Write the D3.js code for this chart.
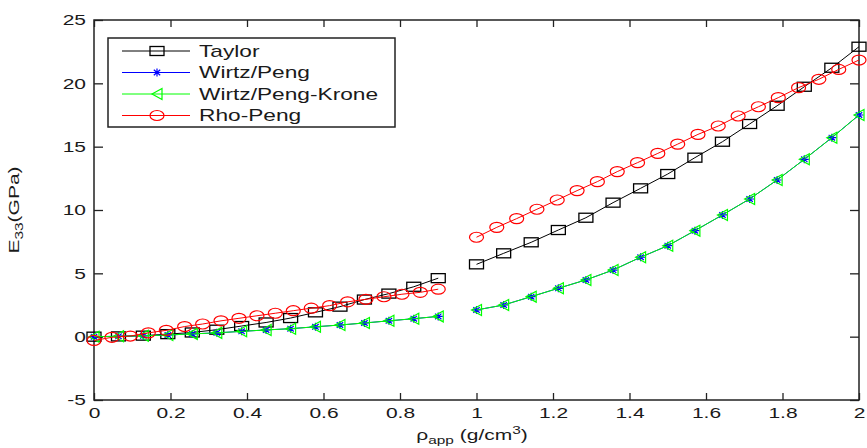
<!DOCTYPE html>
<html>
<head>
<meta charset="utf-8">
<script src="https://cdnjs.cloudflare.com/ajax/libs/d3/7.8.5/d3.min.js"></script>
<style>
  body { margin: 0; background: #fff; }
  svg { display: block; font-family: "Liberation Sans", Arial, sans-serif; }
</style>
</head>
<body>
<script>
// x positions, 15 point series
var xLeft15 = [0, 0.064, 0.129, 0.193, 0.257, 0.321, 0.386, 0.45, 0.514, 0.579, 0.643, 0.707, 0.771, 0.836, 0.9];
var xRight15 = [1, 1.071, 1.143, 1.214, 1.286, 1.357, 1.429, 1.5, 1.571, 1.643, 1.714, 1.786, 1.857, 1.929, 2];
// x positions, 20 point series
var xLeft20 = [0, 0.047, 0.095, 0.142, 0.189, 0.237, 0.284, 0.332, 0.379, 0.426, 0.474, 0.521, 0.568, 0.616, 0.663, 0.711, 0.758, 0.805, 0.853, 0.9];
var xRight20 = [1, 1.053, 1.105, 1.158, 1.211, 1.263, 1.316, 1.368, 1.421, 1.474, 1.526, 1.579, 1.632, 1.684, 1.737, 1.789, 1.842, 1.895, 1.947, 2];

var taylorLeft = [0, 0.02, 0.08, 0.2, 0.33, 0.55, 0.84, 1.12, 1.47, 1.92, 2.37, 2.93, 3.4, 3.94, 4.62];
var taylorRight = [5.71, 6.58, 7.45, 8.42, 9.39, 10.58, 11.71, 12.84, 14.13, 15.39, 16.79, 18.23, 19.73, 21.23, 22.89];

var wirtzLeft = [0, 0.03, 0.07, 0.13, 0.22, 0.3, 0.42, 0.53, 0.63, 0.78, 0.92, 1.08, 1.25, 1.42, 1.6];
var wirtzRight = [2.11, 2.5, 3.16, 3.82, 4.48, 5.26, 6.27, 7.18, 8.37, 9.61, 10.87, 12.37, 14.0, 15.71, 17.5];

var kroneLeft = [0, 0.03, 0.07, 0.13, 0.22, 0.3, 0.42, 0.53, 0.63, 0.78, 0.92, 1.08, 1.25, 1.42, 1.6];
var kroneRight = [2.11, 2.5, 3.16, 3.82, 4.48, 5.26, 6.27, 7.18, 8.37, 9.61, 10.87, 12.37, 14.0, 15.71, 17.5];

var rhoLeft = [-0.3, -0.05, 0.05, 0.3, 0.5, 0.8, 1.0, 1.25, 1.45, 1.65, 1.85, 2.05, 2.25, 2.45, 2.75, 2.95, 3.15, 3.35, 3.5, 3.75];
var rhoRight = [7.85, 8.63, 9.32, 10.06, 10.79, 11.53, 12.24, 13.03, 13.74, 14.47, 15.2, 15.97, 16.63, 17.42, 18.15, 18.87, 19.66, 20.32, 21.1, 21.84];

var xTicks = [0, 0.2, 0.4, 0.6, 0.8, 1, 1.2, 1.4, 1.6, 1.8, 2];
var yTicks = [-5, 0, 5, 10, 15, 20, 25];
var legendNames = ['Taylor', 'Wirtz/Peng', 'Wirtz/Peng-Krone', 'Rho-Peng'];

var W = 867, H = 448;
var mLeft = 94, mRight = 859, mTop = 20, mBottom = 400;
var sx = 1.4; // glyphs are drawn wide, like the reference

var svg = d3.select('body').append('svg').attr('width', W).attr('height', H);

var x = d3.scaleLinear().domain([0, 2]).range([mLeft, mRight]);
var y = d3.scaleLinear().domain([-5, 25]).range([mBottom, mTop]);

function zip(xs, ys) {
  return xs.map(function (v, i) { return [v, ys[i]]; });
}

var series = [
  { name: legendNames[0], color: '#000000', marker: 'square', parts: [zip(xLeft15, taylorLeft), zip(xRight15, taylorRight)] },
  { name: legendNames[1], color: '#0000ff', marker: 'star', parts: [zip(xLeft15, wirtzLeft), zip(xRight15, wirtzRight)] },
  { name: legendNames[2], color: '#00ff00', marker: 'triangle', parts: [zip(xLeft15, kroneLeft), zip(xRight15, kroneRight)] },
  { name: legendNames[3], color: '#ff0000', marker: 'circle', parts: [zip(xLeft20, rhoLeft), zip(xRight20, rhoRight)] }
];

function drawMarker(g, type, cx, cy, color) {
  if (type === 'square') {
    g.append('rect').attr('x', cx - 7).attr('y', cy - 4.5).attr('width', 14).attr('height', 9)
      .attr('fill', 'none').attr('stroke', color).attr('stroke-width', 1.3);
  } else if (type === 'circle') {
    g.append('ellipse').attr('cx', cx).attr('cy', cy).attr('rx', 7).attr('ry', 5)
      .attr('fill', 'none').attr('stroke', color).attr('stroke-width', 1.2);
  } else if (type === 'triangle') {
    g.append('path')
      .attr('d', 'M' + (cx - 5) + ',' + cy + 'L' + (cx + 5) + ',' + (cy - 5.5) + 'L' + (cx + 5) + ',' + (cy + 5.5) + 'Z')
      .attr('fill', 'none').attr('stroke', color).attr('stroke-width', 1.2);
  } else if (type === 'star') {
    var r = 4.5, rv = 4;
    g.append('path')
      .attr('d', 'M' + (cx - r) + ',' + cy + 'L' + (cx + r) + ',' + cy +
        'M' + cx + ',' + (cy - rv) + 'L' + cx + ',' + (cy + rv) +
        'M' + (cx - 3.2) + ',' + (cy - 2.8) + 'L' + (cx + 3.2) + ',' + (cy + 2.8) +
        'M' + (cx - 3.2) + ',' + (cy + 2.8) + 'L' + (cx + 3.2) + ',' + (cy - 2.8))
      .attr('stroke', color).attr('stroke-width', 1.2);
  }
}

// axes box with inward ticks on all four sides
var plain = function (d) { return String(d); };
var xAxisB = d3.axisBottom(x).tickValues(xTicks).tickSize(-7).tickSizeOuter(0).tickPadding(5).tickFormat(plain);
var xAxisT = d3.axisTop(x).tickValues(xTicks).tickSize(-7).tickSizeOuter(0).tickFormat('');
var yAxisL = d3.axisLeft(y).tickValues(yTicks).tickSize(-9).tickSizeOuter(0).tickPadding(6).tickFormat(plain);
var yAxisR = d3.axisRight(y).tickValues(yTicks).tickSize(-9).tickSizeOuter(0).tickFormat('');

var gxb = svg.append('g').attr('transform', 'translate(0,' + mBottom + ')').call(xAxisB);
var gxt = svg.append('g').attr('transform', 'translate(0,' + mTop + ')').call(xAxisT);
var gyl = svg.append('g').attr('transform', 'translate(' + mLeft + ',0)').call(yAxisL);
var gyr = svg.append('g').attr('transform', 'translate(' + mRight + ',0)').call(yAxisR);

[gxb, gxt, gyl, gyr].forEach(function (g) {
  g.select('.domain').remove();
  g.selectAll('line').attr('stroke', '#222').attr('stroke-width', 1.3);
});

gxb.selectAll('text').attr('font-size', 15).attr('fill', '#1a1a1a')
  .attr('font-family', '"Liberation Sans", Arial, sans-serif')
  .attr('transform', 'scale(' + sx + ',1)').attr('dy', '0.85em');
gyl.selectAll('text').attr('font-size', 15).attr('fill', '#1a1a1a')
  .attr('font-family', '"Liberation Sans", Arial, sans-serif')
  .attr('x', -8 / sx).attr('transform', 'scale(' + sx + ',1)');

svg.append('rect').attr('x', mLeft).attr('y', mTop).attr('width', mRight - mLeft).attr('height', mBottom - mTop)
  .attr('fill', 'none').attr('stroke', '#222').attr('stroke-width', 1.5);

// data lines and markers
var line = d3.line().x(function (d) { return x(d[0]); }).y(function (d) { return y(d[1]); });
var plot = svg.append('g');
series.forEach(function (s) {
  var g = plot.append('g');
  s.parts.forEach(function (pts) {
    g.append('path').attr('d', line(pts)).attr('fill', 'none').attr('stroke', s.color).attr('stroke-width', 1);
    pts.forEach(function (p) { drawMarker(g, s.marker, x(p[0]), y(p[1]), s.color); });
  });
});

// legend
var lg = svg.append('g');
lg.append('rect').attr('x', 108).attr('y', 38).attr('width', 287).attr('height', 89)
  .attr('fill', '#fff').attr('stroke', '#222').attr('stroke-width', 1.5);
series.forEach(function (s, i) {
  var ly = 51 + i * 21.5;
  lg.append('line').attr('x1', 122).attr('x2', 190).attr('y1', ly).attr('y2', ly)
    .attr('stroke', s.color).attr('stroke-width', 1);
  drawMarker(lg, s.marker, 157, ly, s.color);
  lg.append('text').attr('transform', 'translate(199,' + (ly + 5.5) + ') scale(1.42,1)')
    .attr('font-size', 16).attr('fill', '#1a1a1a').text(s.name);
});

// axis labels
var yl = svg.append('text')
  .attr('transform', 'translate(19,210) rotate(-90) scale(' + sx + ',1)')
  .attr('text-anchor', 'middle').attr('font-size', 15).attr('fill', '#1a1a1a');
yl.append('tspan').text('E');
yl.append('tspan').attr('font-size', 11).attr('dy', 4).text('33');
yl.append('tspan').attr('dy', -4).text('(GPa)');

var xl = svg.append('text')
  .attr('transform', 'translate(472,440) scale(' + sx + ',1)')
  .attr('text-anchor', 'middle').attr('font-size', 15).attr('fill', '#1a1a1a');
xl.append('tspan').text('\u03c1');
xl.append('tspan').attr('font-size', 11).attr('dy', 4).text('app');
xl.append('tspan').attr('dy', -4).text(' (g/cm');
xl.append('tspan').attr('font-size', 11).attr('dy', -6).text('3');
xl.append('tspan').attr('dy', 6).text(')');
</script>
</body>
</html>
